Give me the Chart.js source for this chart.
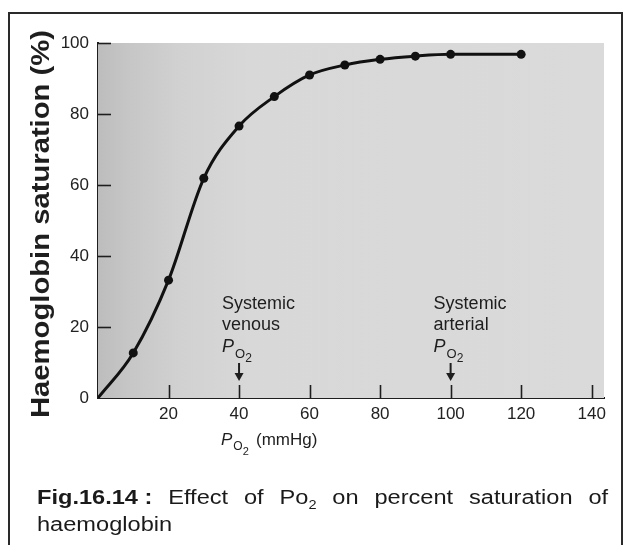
<!DOCTYPE html>
<html>
<head>
<meta charset="utf-8">
<script src="https://cdn.jsdelivr.net/npm/chart.js@4/dist/chart.umd.min.js"></script>
<style>
  html, body { margin: 0; padding: 0; background: #fff; }
  body { width: 630px; height: 545px; position: relative; overflow: hidden; }
  #frame { position: absolute; left: 8px; top: 12px; width: 611px; height: 560px;
           border: 2px solid #2a2a2a; border-bottom: none; }
  #wrap { position: absolute; left: 0; top: 0; width: 630px; height: 545px; }
  #caption { position: absolute; left: 37px; top: 484px; width: 472px;
             transform: scaleX(1.21); transform-origin: 0 0;
             font-family: "Liberation Sans", Arial, sans-serif; font-size: 19.5px;
             line-height: 27px; color: #1a1a1a; text-align: justify; text-align-last: left; }
  #caption b { font-weight: bold; display: inline-block; }
  #caption sub { font-size: 12px; vertical-align: -5px; line-height: 0; }
</style>
</head>
<body>
<div id="frame"></div>
<div id="wrap"><canvas id="c" width="630" height="545"></canvas></div>
<div id="caption"><b>Fig.16.14 :</b> Effect of Po<sub>2</sub> on percent saturation of haemoglobin</div>
<script>
// ---- data ----
const po2Values = [0, 10, 20, 30, 40, 50, 60, 70, 80, 90, 100, 120];
const saturation = [0, 12.7, 33.2, 61.9, 76.6, 84.9, 91, 93.8, 95.4, 96.3, 96.8, 96.8];
const xTickValues = [0, 20, 40, 60, 80, 100, 120, 140];
const yTickValues = [0, 20, 40, 60, 80, 100];
const yTitle = 'Haemoglobin saturation (%)';
const xTitleMain = 'P';
const xTitleSub = 'O';
const xTitleSub2 = '2';
const xTitleUnit = '(mmHg)';
const markers = [
  { po2: 40, lines: ['Systemic', 'venous'] },
  { po2: 100, lines: ['Systemic', 'arterial'] }
];

const FONT = '"Liberation Sans", Arial, Helvetica, sans-serif';
const INK = '#1e1e1e';

const decor = {
  id: 'decor',
  beforeDatasetsDraw(chart) {
    const { ctx, chartArea: a, scales: { x, y } } = chart;
    ctx.save();
    // gray plot background, darker towards the lower left
    const g = ctx.createLinearGradient(a.left, 0, a.right, 0);
    g.addColorStop(0, '#bdbdbd');
    g.addColorStop(0.06, '#c6c6c6');
    g.addColorStop(0.16, '#d1d1d1');
    g.addColorStop(0.3, '#d8d8d8');
    g.addColorStop(1, '#dadada');
    ctx.fillStyle = g;
    ctx.fillRect(a.left, a.top, a.right - a.left, a.bottom - a.top);
    // inward ticks
    ctx.strokeStyle = INK;
    ctx.lineWidth = 1.6;
    xTickValues.forEach(v => {
      if (v === 0) return;
      const px = Math.round(x.getPixelForValue(v)) + 0.5;
      ctx.beginPath(); ctx.moveTo(px, a.bottom); ctx.lineTo(px, a.bottom - 13); ctx.stroke();
    });
    yTickValues.forEach(v => {
      if (v === 0) return;
      const py = Math.round(y.getPixelForValue(v)) + 0.5;
      ctx.beginPath(); ctx.moveTo(a.left, py); ctx.lineTo(a.left + 13, py); ctx.stroke();
    });
    // annotations with arrows
    ctx.fillStyle = INK;
    markers.forEach(m => {
      const px = x.getPixelForValue(m.po2);
      const tx = px - 17;
      ctx.font = '18px ' + FONT;
      ctx.textAlign = 'left';
      ctx.textBaseline = 'alphabetic';
      ctx.fillText(m.lines[0], tx, a.bottom - 89);
      ctx.fillText(m.lines[1], tx, a.bottom - 68);
      ctx.font = 'italic 18px ' + FONT;
      ctx.fillText('P', tx, a.bottom - 46);
      const pw = ctx.measureText('P').width;
      ctx.font = '13px ' + FONT;
      ctx.fillText('O', tx + pw + 1, a.bottom - 40);
      const ow = ctx.measureText('O').width;
      ctx.font = '12px ' + FONT;
      ctx.fillText('2', tx + pw + 1 + ow, a.bottom - 36);
      // arrow
      ctx.beginPath();
      ctx.lineWidth = 2;
      ctx.moveTo(px, a.bottom - 35); ctx.lineTo(px, a.bottom - 24); ctx.stroke();
      ctx.beginPath();
      ctx.moveTo(px - 4.5, a.bottom - 25);
      ctx.lineTo(px + 4.5, a.bottom - 25);
      ctx.lineTo(px, a.bottom - 17);
      ctx.closePath(); ctx.fill();
    });
    ctx.restore();
  },
  afterDraw(chart) {
    const { ctx, chartArea: a } = chart;
    ctx.save();
    ctx.fillStyle = INK;
    // y axis title (rotated, stretched along its length)
    ctx.translate(49, 224);
    ctx.rotate(-Math.PI / 2);
    ctx.font = 'bold 25px ' + FONT;
    const w = ctx.measureText(yTitle).width;
    ctx.scale(388 / w, 1);
    ctx.textAlign = 'center';
    ctx.textBaseline = 'alphabetic';
    ctx.fillText(yTitle, 0, 0);
    ctx.restore();

    // x axis title
    ctx.save();
    ctx.fillStyle = INK;
    ctx.textBaseline = 'alphabetic';
    ctx.textAlign = 'left';
    const bx = 221, by = a.bottom + 47;
    ctx.font = 'italic 17px ' + FONT;
    ctx.fillText(xTitleMain, bx, by);
    const pw = ctx.measureText(xTitleMain).width;
    ctx.font = '12px ' + FONT;
    ctx.fillText(xTitleSub, bx + pw + 1, by + 5);
    const ow = ctx.measureText(xTitleSub).width;
    ctx.font = '11px ' + FONT;
    ctx.fillText(xTitleSub2, bx + pw + 1 + ow, by + 10);
    ctx.font = '17px ' + FONT;
    ctx.fillText(xTitleUnit, 256, by);
    ctx.restore();
  }
};

new Chart(document.getElementById('c'), {
  type: 'line',
  data: {
    datasets: [{
      data: po2Values.map((v, i) => ({ x: v, y: saturation[i] })),
      borderColor: '#111',
      backgroundColor: '#111',
      borderWidth: 3,
      cubicInterpolationMode: 'monotone',
      pointRadius: ctx => (ctx.dataIndex === 0 ? 0 : 4.5),
      pointBackgroundColor: '#111',
      pointBorderWidth: 0,
      fill: false
    }]
  },
  options: {
    responsive: false,
    animation: false,
    events: [],
    layout: { padding: { left: 0, top: 43, right: 26, bottom: 0 } },
    plugins: { legend: { display: false }, tooltip: { enabled: false }, title: { display: false } },
    scales: {
      x: {
        type: 'linear', min: 0, max: 143.5,
        afterBuildTicks: s => { s.ticks = xTickValues.map(v => ({ value: v })); },
        afterFit: s => { s.height = 147; },
        grid: { display: false, drawTicks: false },
        border: { display: true, color: INK, width: 2 },
        ticks: {
          padding: 6, color: '#222', font: { family: FONT, size: 17 },
          callback: v => (v === 0 ? '' : String(v)),
          maxRotation: 0, autoSkip: false
        }
      },
      y: {
        min: 0, max: 100,
        afterBuildTicks: s => { s.ticks = yTickValues.map(v => ({ value: v })); },
        afterFit: s => { s.width = 98; },
        grid: { display: false, drawTicks: false },
        border: { display: true, color: INK, width: 2 },
        ticks: { padding: 9, color: '#222', font: { family: FONT, size: 17 } }
      }
    }
  },
  plugins: [decor]
});
</script>
</body>
</html>
